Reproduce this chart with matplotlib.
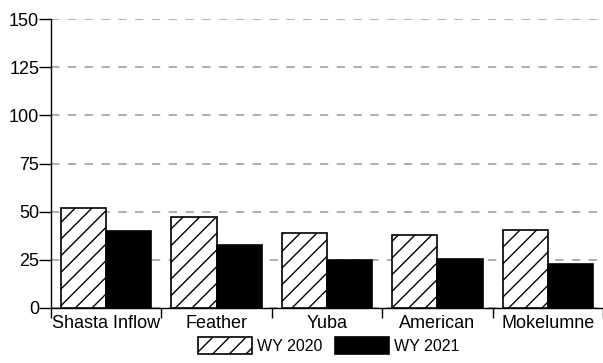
import numpy as np
import matplotlib.pyplot as plt
from matplotlib.patches import Patch

# Percent of average runoff by basin
basins = ["Shasta Inflow", "Feather", "Yuba", "American", "Mokelumne"]
wy2020 = [52, 47, 39, 38, 40.5]
wy2021 = [40, 32.5, 25, 25.5, 23]

plt.rcParams['font.family'] = ['Liberation Sans', 'DejaVu Sans']
plt.rcParams['hatch.linewidth'] = 1.0

fig = plt.figure(figsize=(6.03, 3.63), dpi=100)
ax = fig.add_axes([51 / 603, 55 / 363, 552 / 603, 289 / 363])

x = np.arange(len(basins)) + 0.5
w = 0.41
ax.bar(x - w / 2, wy2020, w, facecolor='white', edgecolor='black', hatch='//',
       linewidth=1.2, zorder=3)
ax.bar(x + w / 2, wy2021, w, facecolor='black', edgecolor='black',
       linewidth=1.2, zorder=3)

ax.set_xlim(0, len(basins))
ax.set_ylim(0, 150)
ax.set_yticks([0, 25, 50, 75, 100, 125, 150])
ax.yaxis.grid(True, color='#999999', linestyle=(0, (5.5, 5.5)), linewidth=1.1)
ax.set_axisbelow(True)

# boundary ticks between basins, labels centred in each slot
ax.set_xticks(np.arange(len(basins) + 1))
ax.set_xticklabels([])
ax.set_xticks(x, minor=True)
ax.set_xticklabels(basins, minor=True)
ax.tick_params(axis='x', which='major', length=7.5, width=1.0, direction='out')
ax.tick_params(axis='x', which='minor', length=0, pad=5)
ax.tick_params(axis='y', length=8.5, width=1.0, pad=0)
ax.tick_params(which='both', labelsize=13)

for side in ['top', 'right']:
    ax.spines[side].set_visible(False)
ax.spines['left'].set_linewidth(1.0)
ax.spines['bottom'].set_linewidth(1.0)
ax.spines['left'].set_zorder(4)

handles = [Patch(facecolor='white', edgecolor='black', hatch='//', linewidth=1.2),
           Patch(facecolor='black', edgecolor='black', linewidth=1.2)]
fig.legend(handles, ['WY 2020', 'WY 2021'], loc='upper center', ncol=2,
           bbox_to_anchor=(0.545, 0.072), frameon=False, fontsize=11.5,
           handlelength=3.4, handleheight=1.3, handletextpad=0.3,
           columnspacing=0.8, borderpad=0, borderaxespad=0)

fig.savefig('out.png', dpi=100)
